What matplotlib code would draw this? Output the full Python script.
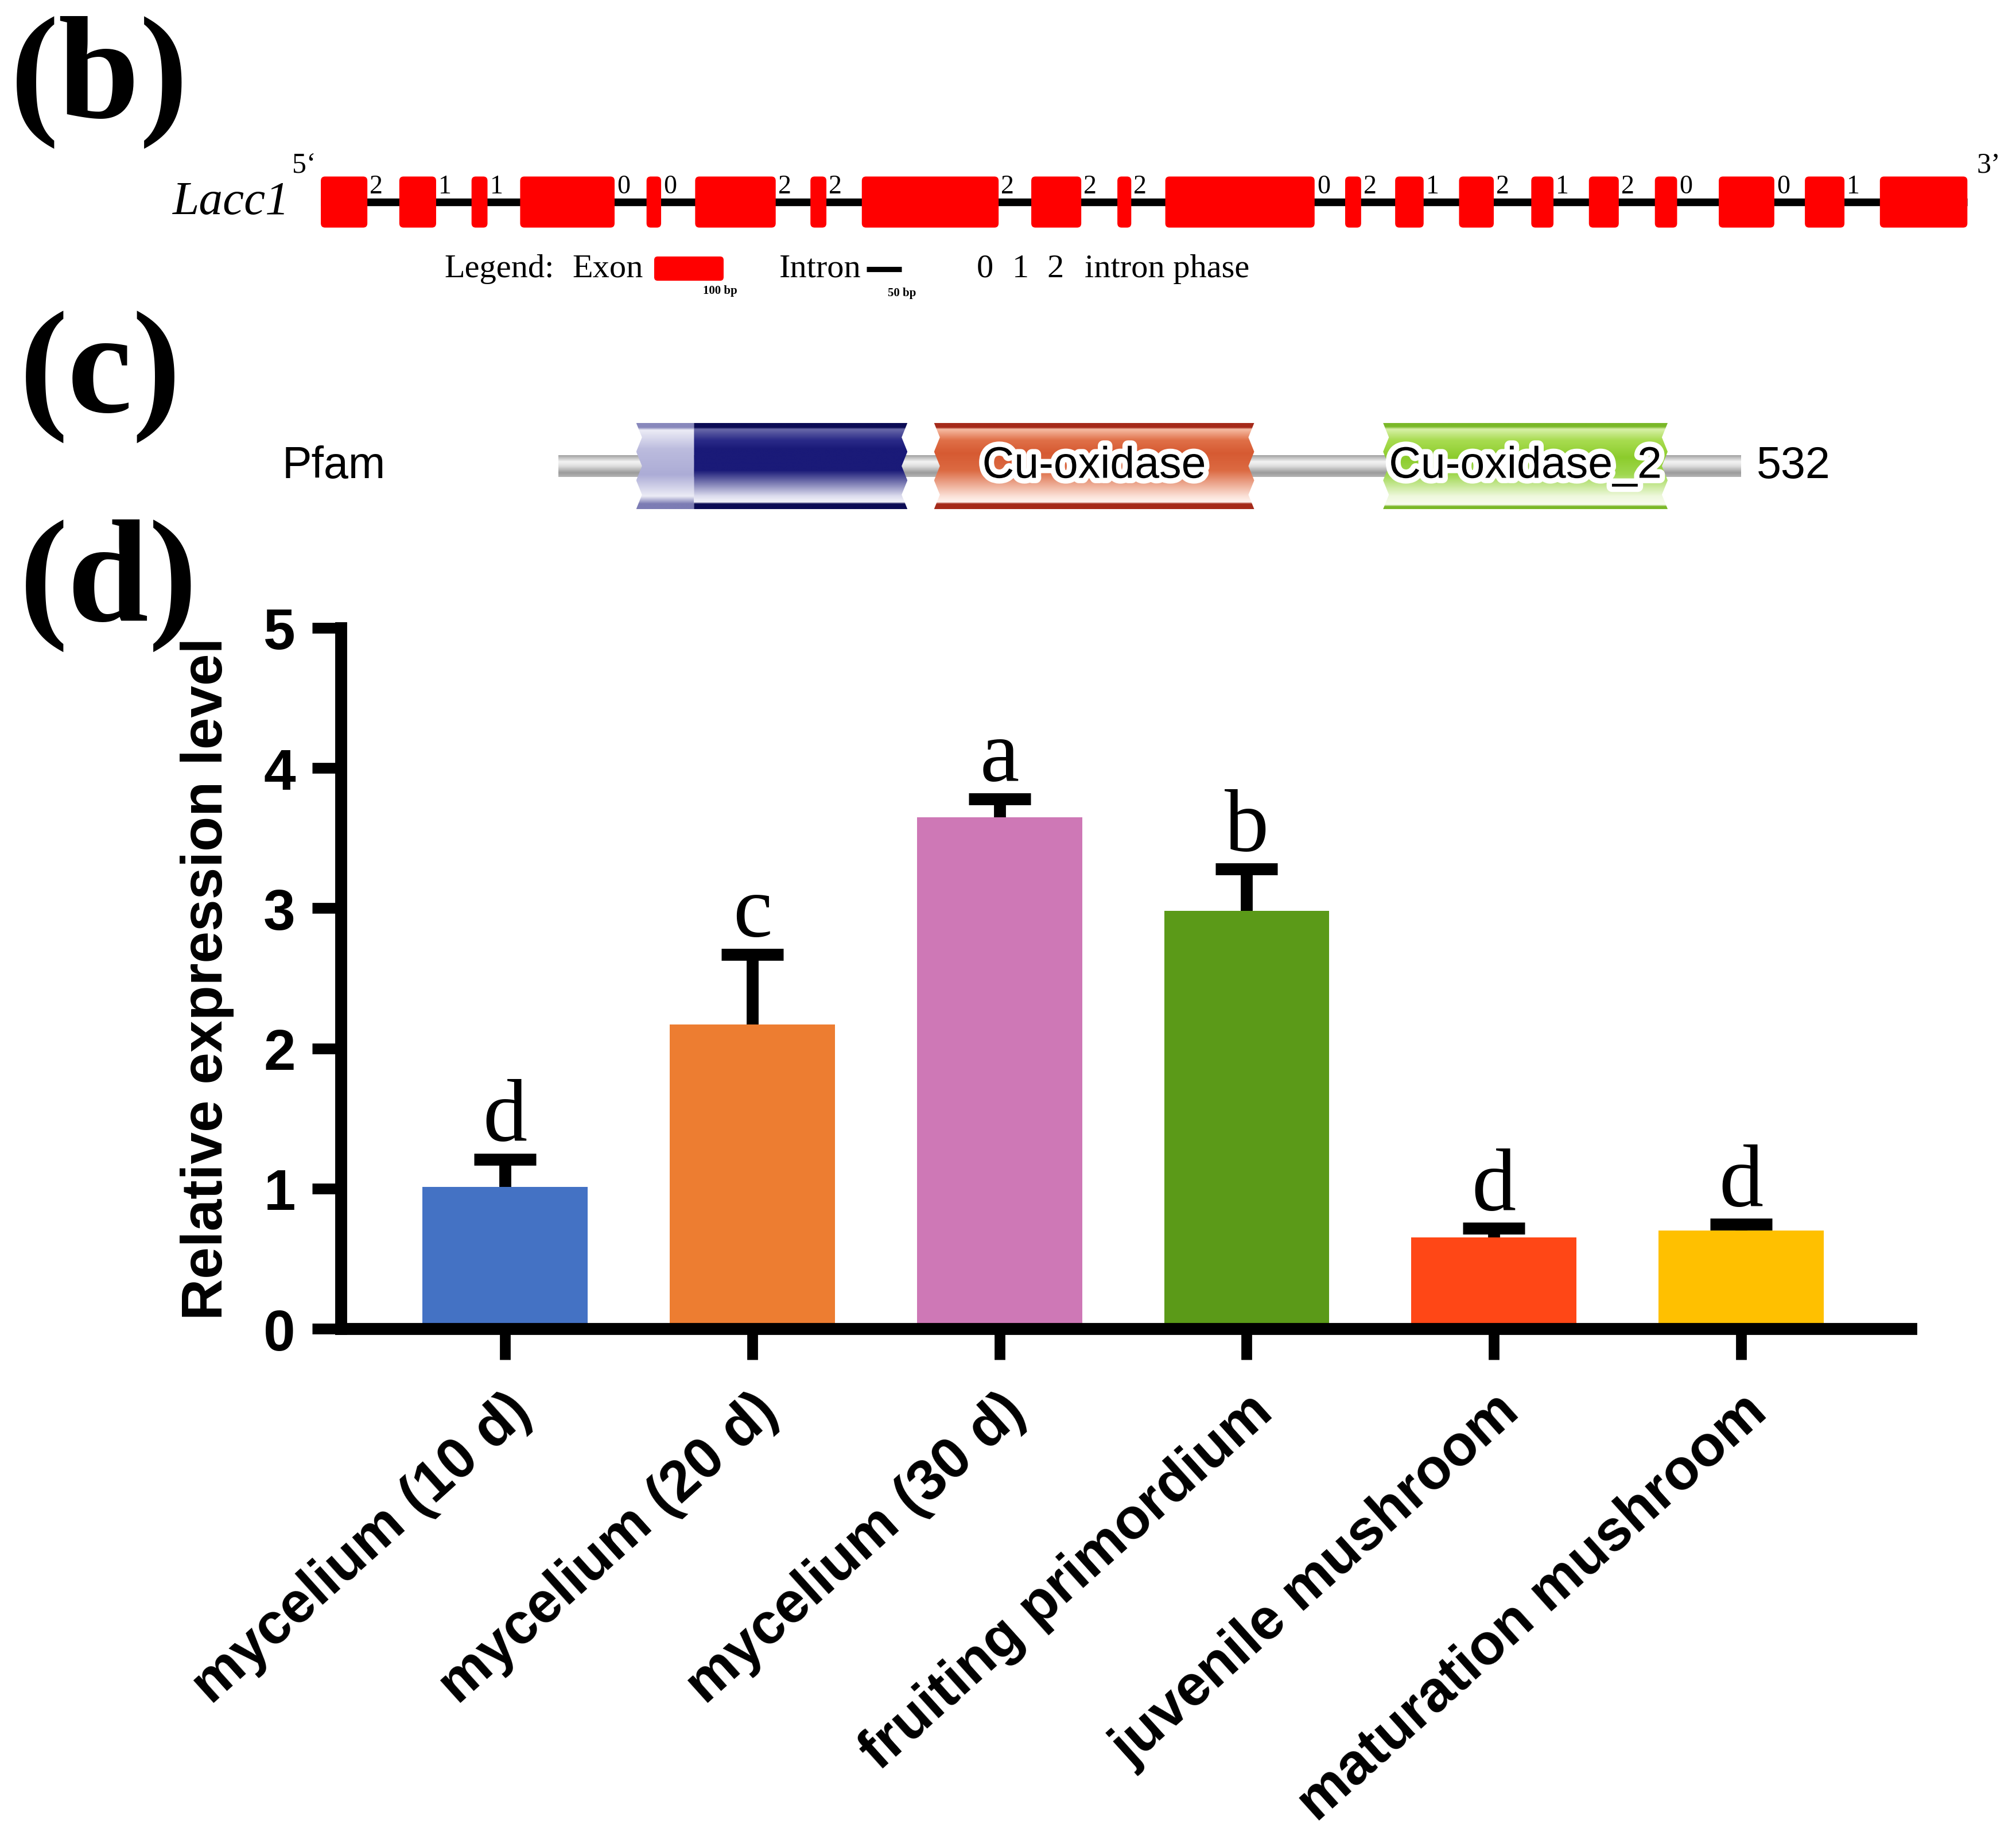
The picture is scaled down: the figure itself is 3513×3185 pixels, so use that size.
import numpy as np
import matplotlib
matplotlib.use("Agg")
import matplotlib.pyplot as plt
import matplotlib.patheffects as pe
from matplotlib.colors import LinearSegmentedColormap
from matplotlib.patches import FancyBboxPatch, Polygon

plt.rcParams["font.family"] = ["Liberation Sans", "DejaVu Sans"]

# (b) gene structure of Lacc1 (bp from first exon start)
exon_starts = [0, 113, 217, 287, 469, 539, 705, 779, 1023, 1147,
               1216, 1475, 1547, 1639, 1743, 1826, 1921, 2013, 2137, 2245]
exon_ends = [67, 166, 240, 423, 490, 655, 728, 976, 1095, 1167,
             1431, 1498, 1588, 1689, 1775, 1869, 1953, 2093, 2194, 2371]
intron_phases = [2, 1, 1, 0, 0, 2, 2, 2, 2, 2, 0, 2, 1, 2, 1, 2, 0, 0, 1]

# (c) Pfam domains (amino acids)
protein_length = 532
domain_names = ["", "Cu-oxidase", "Cu-oxidase_2"]
domain_starts = [35, 169, 371]
domain_ends = [157, 313, 499]
shaded_end = 61

# (d) relative expression
stages = ["mycelium (10 d)", "mycelium (20 d)", "mycelium (30 d)",
          "fruiting primordium", "juvenile mushroom", "maturation mushroom"]
expression = [1.01, 2.17, 3.65, 2.98, 0.65, 0.70]
expression_sd = [0.20, 0.50, 0.13, 0.30, 0.065, 0.045]
sig_letters = ["d", "c", "a", "b", "d", "d"]
bar_colors = ["#4472C4", "#ED7D31", "#CE78B6", "#5B9A18", "#FF4716", "#FFC000"]

SERIF = ["Liberation Serif", "DejaVu Serif"]
W, H = 3513, 3186

fig = plt.figure(figsize=(W / 300, H / 300), dpi=300)


def gradient_fill(ax, xy, stops, zorder):
    cmap = LinearSegmentedColormap.from_list("grad", stops)
    patch = Polygon(xy, closed=True, facecolor="none", edgecolor="none", zorder=zorder)
    ax.add_patch(patch)
    xs = [p[0] for p in xy]
    ys = [p[1] for p in xy]
    grad = np.linspace(0, 1, 256).reshape(-1, 1)
    im = ax.imshow(grad, extent=(min(xs), max(xs), min(ys), max(ys)), origin="upper",
                   aspect="auto", cmap=cmap, zorder=zorder, interpolation="bilinear")
    im.set_clip_path(patch)


def wavy(x, inward, amp=2.6, n=6):
    ys = np.linspace(1, -1, n + 1)
    return [(x + inward * amp * (k % 2), y) for k, y in enumerate(ys)]


# ---------------- (b) gene structure ----------------
ax_g = fig.add_axes([0, 1 - 540 / H, 1, 290 / H])
ax_g.axis("off")
ax_g.plot([exon_starts[0], exon_ends[-1]], [0, 0], color="black", lw=3.2, zorder=1,
          solid_capstyle="butt")
for s, e in zip(exon_starts, exon_ends):
    ax_g.add_patch(FancyBboxPatch((s, -1), e - s, 2,
                                  boxstyle="round,pad=0,rounding_size=6",
                                  mutation_aspect=0.028, facecolor="#FF0000",
                                  edgecolor="none", zorder=2))
for e, ph in zip(exon_ends[:-1], intron_phases):
    ax_g.annotate(str(ph), (e, 0.62), xytext=(1, 0), textcoords="offset points",
                  ha="left", va="center", fontsize=11, family=SERIF)
ax_g.annotate("Lacc1", (exon_starts[0], 0), xytext=(-13, 0), textcoords="offset points",
              ha="right", va="center", fontsize=20, style="italic", family=SERIF)
ax_g.annotate("5\u2018", (exon_starts[0], 1), xytext=(-2, 2), textcoords="offset points",
              ha="right", va="baseline", fontsize=12, family=SERIF)
ax_g.annotate("3\u2019", (exon_ends[-1], 1), xytext=(4, 2), textcoords="offset points",
              ha="left", va="baseline", fontsize=12, family=SERIF)
# legend row
leg_y = -2.6
ax_g.text(178, leg_y, "Legend:", ha="left", va="center", fontsize=14, family=SERIF)
ax_g.text(362, leg_y, "Exon", ha="left", va="center", fontsize=14, family=SERIF)
ax_g.add_patch(FancyBboxPatch((480, -3.08), 100, 0.95, boxstyle="round,pad=0,rounding_size=5",
                              mutation_aspect=0.028, facecolor="#FF0000", edgecolor="none"))
ax_g.text(575, -3.45, "100 bp", ha="center", va="center", fontsize=5, weight="bold", family=SERIF)
ax_g.text(660, leg_y, "Intron", ha="left", va="center", fontsize=14, family=SERIF)
ax_g.plot([786, 836], [-2.63, -2.63], color="black", lw=2.2, solid_capstyle="butt")
ax_g.text(837, -3.55, "50 bp", ha="center", va="center", fontsize=5, weight="bold", family=SERIF)
for xx, t in zip([944, 996, 1046], ["0", "1", "2"]):
    ax_g.text(xx, leg_y, t, ha="left", va="center", fontsize=14, family=SERIF)
ax_g.text(1100, leg_y, "intron phase", ha="left", va="center", fontsize=14, family=SERIF)
ax_g.set_xlim(-462, 2441)
ax_g.set_ylim(-4.2, 2.315)

# ---------------- (c) Pfam domains ----------------
ax_p = fig.add_axes([0, 1 - 938 / H, 1, 250 / H])
ax_p.axis("off")
gray_stops = [(0, "#a0a0a0"), (0.3, "#f4f4f4"), (0.5, "#dedede"), (0.8, "#9c9c9c"), (1, "#b4b4b4")]
gradient_fill(ax_p, [(0, 0.25), (protein_length, 0.25), (protein_length, -0.25), (0, -0.25)],
              gray_stops, 1)

dark_blue = [(0, "#0c0c55"), (0.05, "#0c0c55"), (0.07, "#6868a8"), (0.2, "#2a2a88"),
             (0.3, "#1a1a78"), (0.55, "#1a1a78"), (0.85, "#dcdcee"), (0.92, "#f4f4fa"),
             (0.94, "#0c0c55"), (1, "#0c0c55")]
light_blue = [(0, "#8888bc"), (0.05, "#8888bc"), (0.08, "#ececf6"), (0.3, "#bcbcde"),
              (0.6, "#acacd6"), (0.85, "#ececf6"), (0.94, "#7c7cb4"), (1, "#7c7cb4")]
orange = [(0, "#a52a1a"), (0.05, "#a52a1a"), (0.07, "#f6bca4"), (0.2, "#e07048"),
          (0.35, "#d65a32"), (0.55, "#dc6a42"), (0.85, "#fbe0d6"), (0.92, "#fff4f0"),
          (0.94, "#a52a1a"), (1, "#a52a1a")]
green = [(0, "#7ab828"), (0.04, "#7ab828"), (0.07, "#d8f0a8"), (0.2, "#a8dc50"),
         (0.4, "#8ccc2c"), (0.6, "#a0d850"), (0.85, "#eef8dc"), (0.95, "#f8fcf0"),
         (0.97, "#7ab828"), (1, "#7ab828")]
domain_stops = [dark_blue, orange, green]

for name, s, e, stops in zip(domain_names, domain_starts, domain_ends, domain_stops):
    if name == "":
        # first domain: pale overlapping part then dark part
        left = wavy(s, 1) + [(shaded_end, -1), (shaded_end, 1)]
        gradient_fill(ax_p, left, light_blue, 2)
        body = [(shaded_end, 1), (shaded_end, -1)] + wavy(e, -1)[::-1]
        gradient_fill(ax_p, body, stops, 2)
    else:
        body = wavy(s, 1) + wavy(e, -1)[::-1]
        gradient_fill(ax_p, body, stops, 2)
        ax_p.text((s + e) / 2, 0, name, ha="center", va="center", fontsize=18.5,
                  color="black", zorder=3,
                  path_effects=[pe.withStroke(linewidth=4.5, foreground="white")])
ax_p.text(0.14, 0.5, "Pfam", transform=ax_p.transAxes, ha="left", va="center", fontsize=18.5)
ax_p.annotate(str(protein_length), (protein_length, 0), xytext=(6.5, 0), textcoords="offset points",
              ha="left", va="center", fontsize=18.5)
ax_p.set_xlim(-251.2, 655.7)
ax_p.set_ylim(-1.667, 1.667)

# ---------------- (d) expression bar chart ----------------
ax = fig.add_axes([594 / W, 1 - 2316 / H, (3330 - 594) / W, (2316 - 1095) / H])
x = np.arange(len(stages))
ax.errorbar(x, expression, yerr=expression_sd, fmt="none", ecolor="black",
            elinewidth=5, capsize=13, capthick=5, zorder=1)
ax.bar(x, expression, width=0.668, color=bar_colors, zorder=2)
for xi, m, s, lt in zip(x, expression, expression_sd, sig_letters):
    ax.annotate(lt, (xi, m + s), xytext=(0, 8), textcoords="offset points",
                ha="center", va="baseline", fontsize=37, family=SERIF)

ax.set_xlim(-0.664, 5.687)
ax.set_ylim(0, 5)
ax.set_yticks(range(6))
for side in ["top", "right"]:
    ax.spines[side].set_visible(False)
for side in ["left", "bottom"]:
    ax.spines[side].set_linewidth(5)
ax.tick_params(axis="y", length=12, width=4.5, pad=7, labelsize=24)
ax.tick_params(axis="x", length=13, width=4.5, pad=10, labelsize=24)
ax.set_xticks(x)
ax.set_xticklabels(stages, rotation=42, ha="right", rotation_mode="anchor", fontweight="bold")
for lab in ax.get_yticklabels():
    lab.set_fontweight("bold")
ax.set_ylabel("Relative expression level", fontsize=24, fontweight="bold")
ax.yaxis.set_label_coords(-0.068, 0.5)

# panel letters
fig.text(18 / W, 1 - 205 / H, "(b)", fontsize=61, weight="bold", family=SERIF, va="baseline")
fig.text(34 / W, 1 - 718 / H, "(c)", fontsize=61, weight="bold", family=SERIF, va="baseline")
fig.text(34 / W, 1 - 1082 / H, "(d)", fontsize=61, weight="bold", family=SERIF, va="baseline")

fig.savefig("out.png", dpi=300)
